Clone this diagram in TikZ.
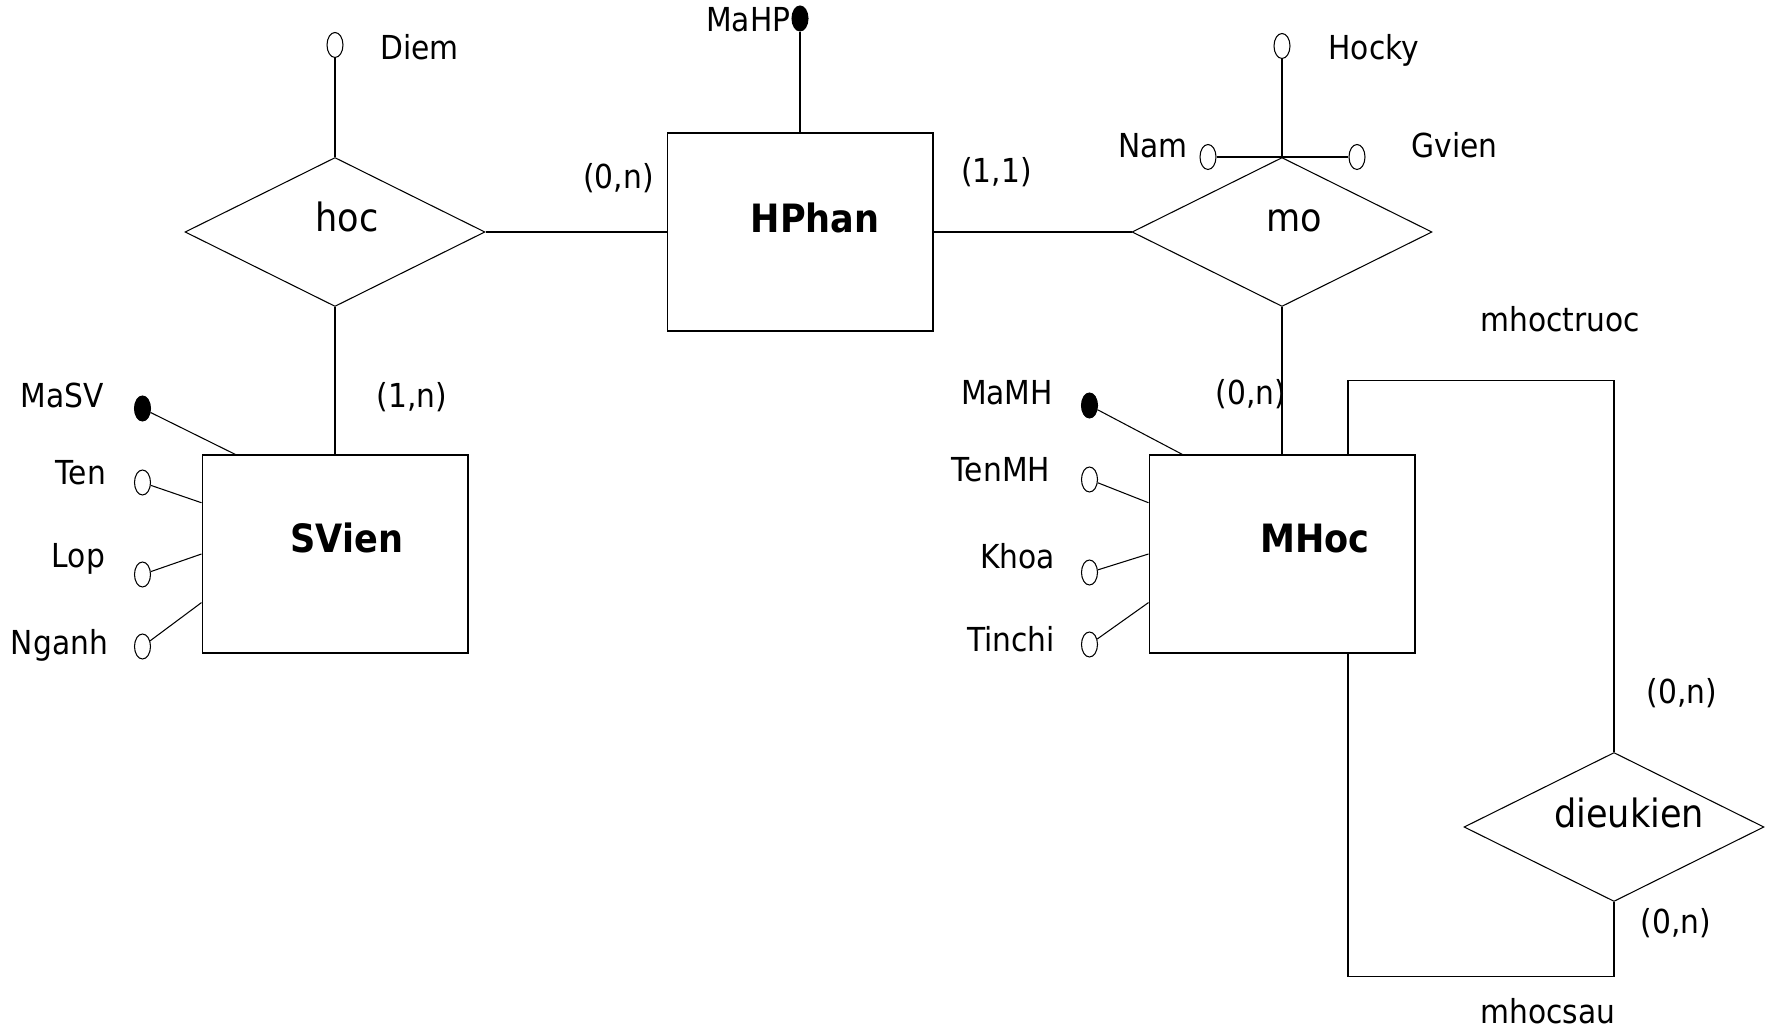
\documentclass[tikz,border=0pt]{standalone}
\usepackage{fontspec}
\setmainfont{DejaVu Sans}[FakeStretch=0.9]
\usepackage{tikz}
\usetikzlibrary{calc}
\usetikzlibrary{shapes.geometric, positioning}

\begin{document}
\begin{tikzpicture}[x=0.02cm,y=-0.02cm,-,line width=0.6pt,
                    entity/.style={rectangle,draw,minimum width=5.32cm,minimum height=3.96cm,inner sep=0pt},
                    relation/.style={diamond,draw,minimum width=6cm,minimum height=2.98cm,inner sep=0pt},
                    attr/.style={ellipse,draw,minimum width=0.32cm,minimum height=0.5cm,inner sep=0pt},
                    key/.style={attr,fill=black},
                    name text/.style={inner sep=0pt,anchor=base,font=\fontsize{22.2}{26}\selectfont},
                    entity text/.style={name text,font=\fontsize{22.2}{26}\selectfont\bfseries},
                    small text/.style={inner sep=0pt,anchor=base,font=\fontsize{18.8}{22}\selectfont}]
\useasboundingbox (0,0) rectangle (1769,1030);
%entities and relations
  \node[relation] (Hoc) at (335,232) {};
  \node[entity] (HPhan) [shift={(465,0)}] at (Hoc) {};
  \node[relation] (Mo) [shift={(482,0)}] at (HPhan) {};
  \node[entity] (SVien) [shift={(0,322)}] at (Hoc) {};
  \node[entity] (MHoc) [shift={(0,322)}] at (Mo) {};
  \node[relation] (DieuKien) [shift={(332,273)}] at (MHoc) {};

  \node[name text] [shift={(12,0)}] at (Hoc) {hoc};
  \node[entity text] [shift={(15,1)}] at (HPhan) {HPhan};
  \node[name text] [shift={(12,0)}] at (Mo) {mo};
  \node[entity text] [shift={(12,-1)}] at (SVien) {SVien};
  \node[entity text] [shift={(33,-1)}] at (MHoc) {MHoc};
  \node[name text] [shift={(15,0)}] at (DieuKien) {dieukien};

%SVien attributes
  \node[key] (1) [shift={(-59,-46)}] at (SVien.north west) {};
  \node[attr] (2) [shift={(-59,28)}] at (SVien.north west) {};
  \node[attr] (3) [shift={(-59,120)}] at (SVien.north west) {};
  \node[attr] (4) [shift={(-59,192)}] at (SVien.north west) {};
  \node[small text,anchor=base east] [shift={(-38,-1)}] at (1) {MaSV};
  \node[small text,anchor=base east] [shift={(-36,2)}] at (2) {Ten};
  \node[small text,anchor=base east] [shift={(-37,-7)}] at (3) {Lop};
  \node[small text,anchor=base east] [shift={(-34,8)}] at (4) {Nganh};

%MHoc attributes
  \node[key] (5) [shift={(-59,-49)}] at (MHoc.north west) {};
  \node[attr] (6) [shift={(-59,25)}] at (MHoc.north west) {};
  \node[attr] (7) [shift={(-59,118)}] at (MHoc.north west) {};
  \node[attr] (8) [shift={(-59,190)}] at (MHoc.north west) {};
  \node[small text,anchor=base east] [shift={(-36,-1)}] at (5) {MaMH};
  \node[small text,anchor=base east] [shift={(-39,2)}] at (6) {TenMH};
  \node[small text,anchor=base east] [shift={(-34,-4)}] at (7) {Khoa};
  \node[small text,anchor=base east] [shift={(-34,7)}] at (8) {Tinchi};

%top attributes
  \node[attr] (9) [shift={(0,-112)}] at (Hoc.north) {};
  \node[key] (10) [shift={(0,-114)}] at (HPhan.north) {};
  \node[attr] (11) [shift={(0,-111)}] at (Mo.north) {};
  \node[attr] (12) [shift={(-74,0)}] at (Mo.north) {};
  \node[attr] (13) [shift={(75,0)}] at (Mo.north) {};
  \node[small text,anchor=base west] [shift={(45,15)}] at (9) {Diem};
  \node[small text,anchor=base east] [shift={(-9,13)}] at (10) {MaHP};
  \node[small text,anchor=base west] [shift={(46,14)}] at (11) {Hocky};
  \node[small text,anchor=base east] [shift={(-20,1)}] at (12) {Nam};
  \node[small text,anchor=base west] [shift={(54,1)}] at (13) {Gvien};

  \path
  (Hoc) edge (HPhan)
  (HPhan) edge (Mo)
  (Hoc) edge (SVien)
  (Mo) edge (MHoc)

  (9) edge (Hoc)
  (10) edge (HPhan)
  (11) edge (Mo)
  (12) edge (Mo.north)
  (13) edge (Mo.north)

  (1) edge (SVien.135)
  (2) edge (SVien.159)
  (3) edge (SVien.180)
  (4) edge (SVien.200)
  (5) edge (MHoc.135)
  (6) edge (MHoc.159)
  (7) edge (MHoc.180)
  (8) edge (MHoc.200);

%recursive dieukien
  \coordinate[shift={(66,-74)}] (c1) at (MHoc.north);
  \coordinate[shift={(66,323)}] (c2) at (MHoc.south);
  \draw (c1 |- MHoc.north) -- (c1) -| (DieuKien.north);
  \draw (c2 |- MHoc.south) -- (c2) -| (DieuKien.south);

%cardinalities
  \node[small text] [shift={(-48,56)}] at (HPhan.north west) {(0,n)};
  \node[small text] [shift={(63,50)}] at (HPhan.north east) {(1,1)};
  \node[small text] [shift={(77,-47)}] at (SVien.north) {(1,n)};
  \node[small text] [shift={(-31,-50)}] at (MHoc.north) {(0,n)};
  \node[small text] [shift={(68,-48)}] at (DieuKien.north) {(0,n)};
  \node[small text] [shift={(62,31)}] at (DieuKien.south) {(0,n)};
  \node[small text] [shift={(212,-49)}] at (c1) {mhoctruoc};
  \node[small text] [shift={(200,47)}] at (c2) {mhocsau};

\end{tikzpicture}
\end{document}
